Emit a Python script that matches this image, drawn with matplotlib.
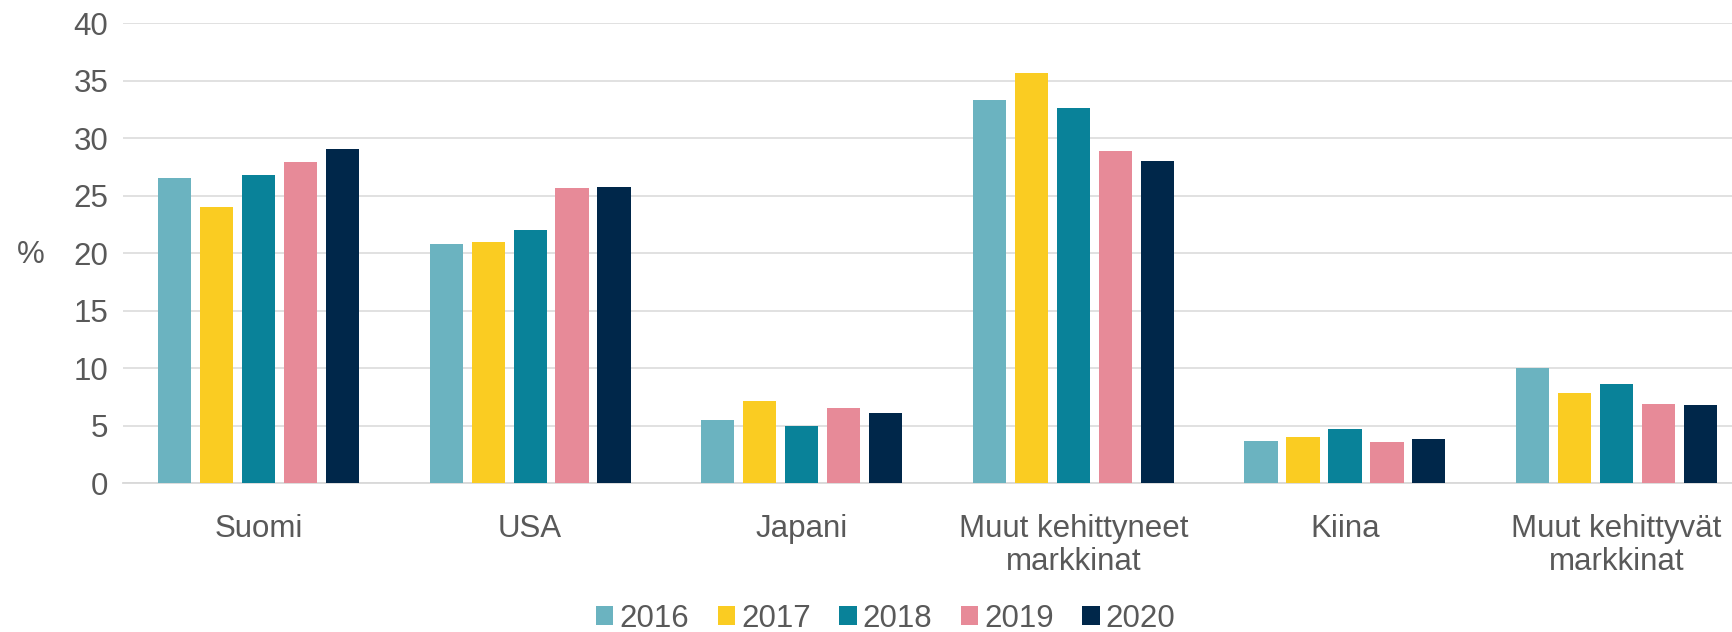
import numpy as np
import matplotlib.pyplot as plt
from matplotlib.patches import Patch

plt.rcParams['font.family'] = ['Liberation Sans', 'DejaVu Sans']

categories = ['Suomi', 'USA', 'Japani', 'Muut kehittyneet\nmarkkinat', 'Kiina',
              'Muut kehittyvät\nmarkkinat']
years = ['2016', '2017', '2018', '2019', '2020']
v2016 = [26.5, 20.8, 5.5, 33.3, 3.7, 10.0]
v2017 = [24.0, 21.0, 7.2, 35.7, 4.0, 7.9]
v2018 = [26.8, 22.0, 5.0, 32.6, 4.7, 8.6]
v2019 = [27.9, 25.7, 6.6, 28.9, 3.6, 6.9]
v2020 = [29.1, 25.8, 6.1, 28.0, 3.9, 6.8]
series = [v2016, v2017, v2018, v2019, v2020]
colors = ['#6BB3C0', '#FACC22', '#098299', '#E78A98', '#00274A']

text_col = '#595959'
grid_col = '#D9D9D9'
fs = 22.5

fig = plt.figure(figsize=(17.32, 6.32), dpi=100)
# plot area runs a little past the right edge of the canvas
ax = fig.add_axes([0.0708, 0.235, 0.941, 0.7285])

x = np.arange(len(categories))
pitch = 0.1545
width = 0.122
for i, (vals, c) in enumerate(zip(series, colors)):
    ax.bar(x + (i - 2) * pitch, vals, width=width, color=c, zorder=3)

ax.set_xlim(-0.5, len(categories) - 0.5)
ax.set_ylim(0, 40)
ax.set_yticks(range(0, 41, 5))
ax.set_xticks(x)
ax.set_xticklabels(categories, fontsize=fs, color=text_col, linespacing=1.15)
ax.tick_params(axis='y', length=0, pad=10.5, labelsize=fs, labelcolor=text_col)
ax.tick_params(axis='x', length=0, pad=22)
ax.grid(axis='y', color=grid_col, linewidth=1.1, zorder=0)

for side in ['top', 'right', 'left']:
    ax.spines[side].set_visible(False)
ax.spines['bottom'].set_color(grid_col)
ax.spines['bottom'].set_linewidth(1.3)

fig.text(31 / 1732, 1 - 255 / 632, '%', fontsize=fs, color=text_col,
         ha='center', va='center')

handles = [Patch(facecolor=c) for c in colors]
fig.legend(handles, years, loc='center', bbox_to_anchor=(0.5115, 0.021),
           ncol=5, frameon=False, fontsize=fs, labelcolor=text_col,
           handlelength=0.55, handleheight=0.55, handletextpad=0.2,
           columnspacing=0.91, borderpad=0)

fig.savefig('out.png', dpi=100)
